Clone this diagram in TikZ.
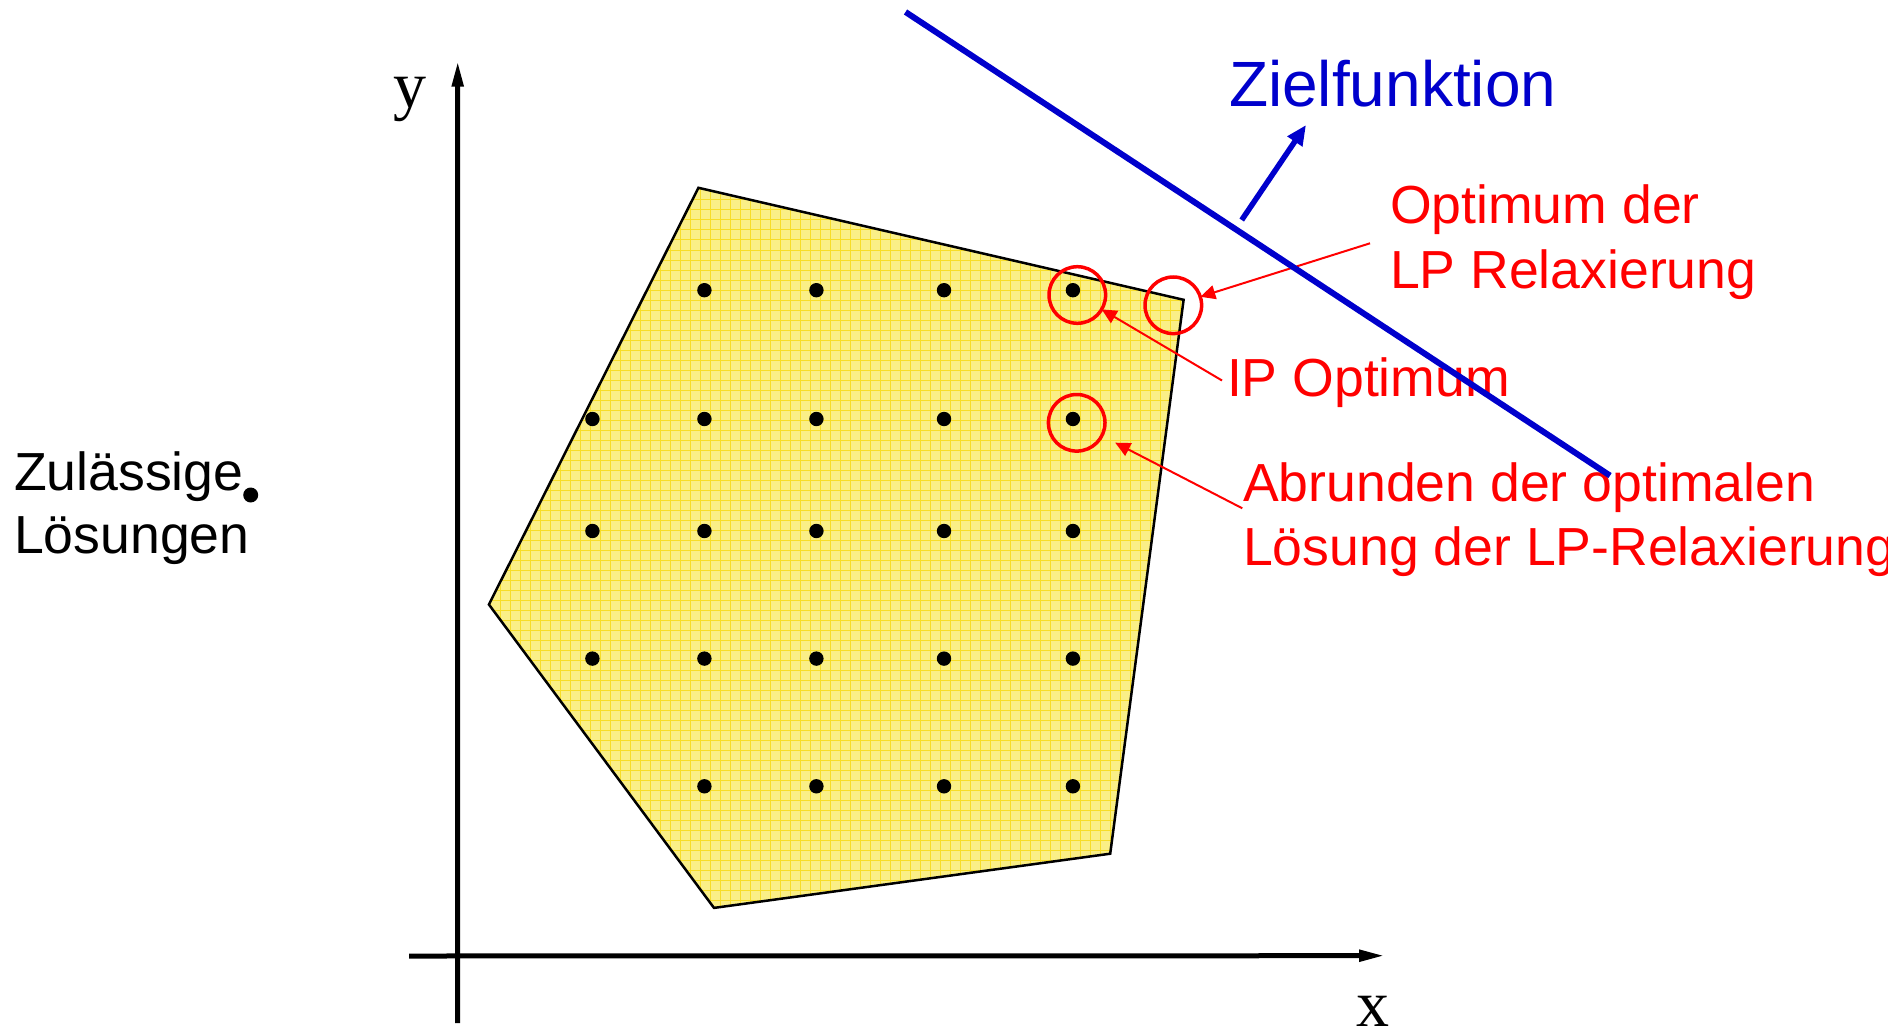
\documentclass[tikz,border=0pt]{standalone}
\usepackage{fontspec}
\setmainfont{Liberation Sans}
\newfontfamily\serifxy{Liberation Serif}
\usetikzlibrary{arrows.meta}
\definecolor{optred}{RGB}{255,0,0}
\definecolor{zfblue}{RGB}{0,0,204}
\definecolor{polyfill}{RGB}{250,239,135}
\definecolor{polygrid}{RGB}{247,221,40}
\newcommand\twolines[3]{\vtop{\baselineskip=#3\relax\hbox{#1}\hbox{#2}}}
\begin{document}
\begin{tikzpicture}[x=0.5pt,y=-0.5pt,
  lbl/.style={anchor=base west,inner sep=0,outer sep=0,font=\fontsize{26.8}{32}\selectfont},
  redlbl/.style={lbl,text=optred},
  axislbl/.style={anchor=base,inner sep=0,font=\serifxy\fontsize{33}{40}\selectfont},
  axisarrow/.style={line width=2.5pt,-{Triangle[length=13pt,width=5.5pt]}},
  ring/.style={circle,draw=optred,line width=1.75pt,minimum size=28.3pt,inner sep=0,outer sep=0},
  redarrow/.style={draw=optred,line width=1pt,-{Triangle[length=7.5pt,width=7pt]}},
  bluearrow/.style={draw=zfblue,line width=2.75pt,-{Triangle[length=10pt,width=8.5pt]}},
]
\useasboundingbox (0,0) rectangle (1888,1032);

% axes
\coordinate (yfoot) at (457.6,1023);
\coordinate (ytip) at (457.7,60.7);
\coordinate (xfoot) at (409,956);
\coordinate (xtip) at (1385,955.7);
\draw[axisarrow] (yfoot) -- (ytip);
\draw[axisarrow] (xfoot) -- (xtip);
\node[axislbl] (ylab) at (410,108) {y};
\node[axislbl] (xlab) at (1373,1026) {x};

% feasible polygon
\path[fill=polyfill] (698.4,187.8) -- (1183.6,299.8) -- (1110.2,853.7) -- (714.0,907.9) -- (488.9,604.5) -- cycle;
\begin{scope}
  \clip (698.4,187.8) -- (1183.6,299.8) -- (1110.2,853.7) -- (714.0,907.9) -- (488.9,604.5) -- cycle;
  \draw[polygrid,line width=0.5pt,step=5pt] (400,920) grid (1200,150);
\end{scope}
\draw[line width=1.25pt,line join=miter] (698.4,187.8) -- (1183.6,299.8) -- (1110.2,853.7) -- (714.0,907.9) -- (488.9,604.5) -- cycle;

% lattice points
\foreach \yy in {419.0,531.0,658.6}
  \foreach \xx in {592.4,704.4,816.4,944.0,1072.9}
    \fill (\xx,\yy) circle[radius=7.2];
\foreach \yy in {290.2,786.3}
  \foreach \xx in {704.4,816.4,944.0,1072.9}
    \fill (\xx,\yy) circle[radius=7.2];

% legend
\fill (250.7,495) circle[radius=7.5];
\node[lbl] (zul) at (14,490) {\twolines{Zulässige}{Lösungen}{31.7pt}};

% rings
\node[ring] (ipopt) at (1077.3,295) {};
\node[ring] (lpopt) at (1173.3,305.3) {};
\node[ring] (round) at (1076.7,422.8) {};

% red labels
\node[redlbl] (lplab) at (1390,223.3) {\twolines{Optimum der}{LP Relaxierung}{32.5pt}};
\node[redlbl] (iplab) at (1227,396.7) {IP Optimum};
\node[redlbl] (rdlab) at (1243,501) {\twolines{Abrunden der optimalen}{Lösung der LP-Relaxierung}{32pt}};

\coordinate (lpfrom) at (1370,243.3);
\coordinate (ipfrom) at (1222,380.5);
\coordinate (rdfrom) at (1242.3,508.3);
\draw[redarrow] (lpfrom) -- (lpopt);
\draw[redarrow] (ipfrom) -- (ipopt);
\draw[redarrow,shorten >=7.5pt] (rdfrom) -- (round);

% objective function
\coordinate (zfa) at (905.5,12);
\coordinate (zfb) at (1610,475.6);
\draw[zfblue,line width=3pt] (zfa) -- (zfb);
\coordinate (zffrom) at (1241.7,220);
\coordinate (zfto) at (1306,125);
\draw[bluearrow] (zffrom) -- (zfto);
\node[lbl,text=zfblue,font=\fontsize{32}{38}\selectfont] (zflab) at (1229,106.7) {Zielfunktion};
\end{tikzpicture}
\end{document}
